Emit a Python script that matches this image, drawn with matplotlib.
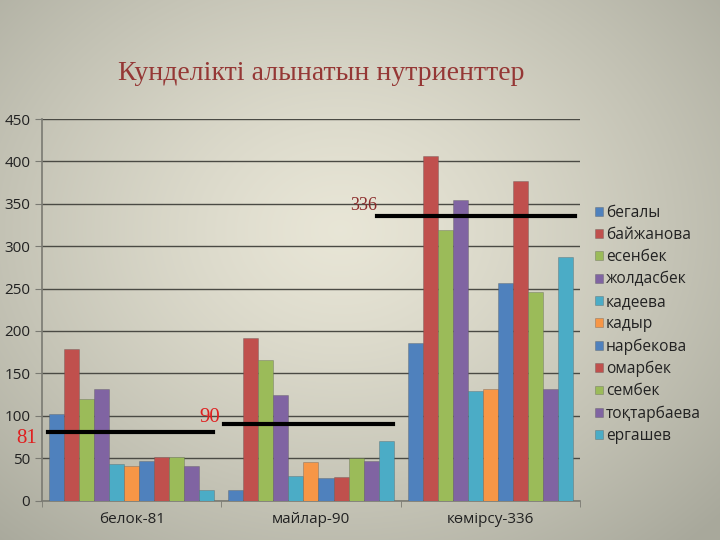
import matplotlib.pyplot as plt
import numpy as np

# categories and series
categories = ['белок-81', 'майлар-90', 'көмірсу-336']
names = ['бегалы', 'байжанова', 'есенбек', 'жолдасбек', 'кадеева', 'кадыр',
         'нарбекова', 'омарбек', 'сембек', 'тоқтарбаева', 'ергашев']
values = {
    'бегалы':      [102, 12, 186],
    'байжанова':   [179, 192, 406],
    'есенбек':     [120, 166, 319],
    'жолдасбек':   [132, 124, 355],
    'кадеева':     [43, 29, 129],
    'кадыр':       [41, 46, 131],
    'нарбекова':   [47, 27, 257],
    'омарбек':     [51, 28, 377],
    'сембек':      [51, 50, 246],
    'тоқтарбаева': [41, 47, 131],
    'ергашев':     [13, 70, 287],
}
norms = [81, 90, 336]
norm_labels = ['81', '90', '336']

# Excel-like palette
colors = ['#4F81BD', '#C0504D', '#9BBB59', '#8064A2', '#4BACC6', '#F79646',
          '#4F81BD', '#C0504D', '#9BBB59', '#8064A2', '#4BACC6']

fig = plt.figure(figsize=(7.2, 5.4), dpi=100)

# background gradient
bg = fig.add_axes([0, 0, 1, 1], zorder=-5)
yy, xx = np.mgrid[0:540, 0:720]
r = np.sqrt(((xx - 340) / 520.0) ** 2 + ((yy - 230) / 420.0) ** 2)
r = np.clip(r, 0, 1)
c0 = np.array([0.91, 0.90, 0.84])
c1 = np.array([0.66, 0.66, 0.61])
img = c0[None, None, :] * (1 - r[..., None] ** 1.3) + c1[None, None, :] * (r[..., None] ** 1.3)
bg.imshow(img, extent=[0, 1, 0, 1], aspect='auto')
bg.axis('off')

ax = fig.add_axes([0.0583, 0.0731, 0.7472, 0.7065])
ax.set_facecolor('none')

n = len(names)
bw = 0.0839
x = np.arange(len(categories))
for i, name in enumerate(names):
    off = (i - (n - 1) / 2) * bw
    ax.bar(x + off, values[name], width=bw, color=colors[i], label=name,
           edgecolor=(0.3, 0.3, 0.3, 0.35), linewidth=0.6, zorder=3)

ax.set_xlim(-0.5, 2.5)
ax.set_ylim(0, 450)
ax.set_yticks(np.arange(0, 451, 50))
ax.grid(axis='y', color='#4a4a44', linewidth=1.0, zorder=0)
ax.set_axisbelow(True)

for s in ['top', 'right']:
    ax.spines[s].set_visible(False)
ax.spines['left'].set_color('#7a7a72')
ax.spines['bottom'].set_color('#7a7a72')
ax.spines['left'].set_linewidth(1.2)
ax.spines['bottom'].set_linewidth(1.2)

ax.set_xticks(x)
ax.set_xticklabels(categories)
ax.set_xticks([-0.5, 0.5, 1.5, 2.5], minor=True)
ax.tick_params(axis='x', which='major', length=0, pad=8, labelsize=11, labelcolor='#222222')
ax.tick_params(axis='x', which='minor', length=4, color='#7a7a72')
ax.tick_params(axis='y', length=5, color='#7a7a72', labelsize=11, labelcolor='#222222')
for lab in ax.get_xticklabels() + ax.get_yticklabels():
    lab.set_family('Open Sans')

# norm lines
line_spans = [(-0.467, 0.454), (0.515, 1.458), (1.368, 2.473)]
for (x0, x1), v in zip(line_spans, norms):
    ax.plot([x0, x1], [v, v], color='black', linewidth=3, zorder=5, clip_on=False)

fig.text(0.052, 0.188, norm_labels[0], color='#e02020', fontsize=15,
         family='Liberation Serif', ha='right', va='center')
fig.text(0.306, 0.226, norm_labels[1], color='#e02020', fontsize=15,
         family='Liberation Serif', ha='right', va='center')
fig.text(0.524, 0.62, norm_labels[2], color='#8b2a2a', fontsize=13,
         family='Liberation Serif', ha='right', va='center')

fig.text(0.446, 0.864, 'Кунделікті алынатын нутриенттер', color='#953735',
         fontsize=20, family='Liberation Serif', ha='center', va='center')

leg = ax.legend(loc='upper left', bbox_to_anchor=(0.818, 0.632),
                bbox_transform=fig.transFigure, frameon=False,
                prop={'family': 'Open Sans', 'size': 11.2},
                handlelength=0.5, handleheight=0.5, handletextpad=0.2,
                labelspacing=0.40, borderaxespad=0)
for t in leg.get_texts():
    t.set_color('#222222')

fig.savefig('out.png', dpi=100)
